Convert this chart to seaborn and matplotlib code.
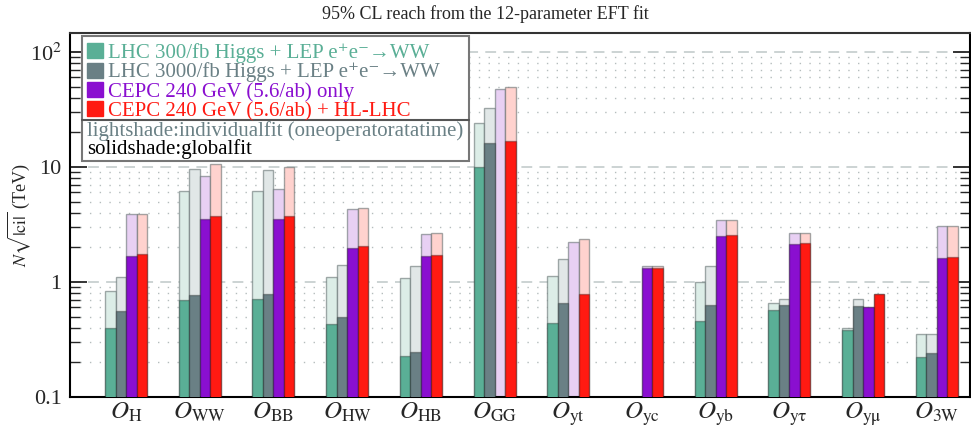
import numpy as np
import pandas as pd
import matplotlib
matplotlib.use('Agg')
import matplotlib.pyplot as plt
from matplotlib.patches import Patch, Rectangle
from matplotlib.lines import Line2D
from matplotlib.ticker import FixedLocator, FixedFormatter, LogLocator, NullFormatter
import seaborn as sns

nan = np.nan

# operators and fit scenarios
operators = ['H', 'WW', 'BB', 'HW', 'HB', 'GG', 'yt', 'yc', 'yb', 'ytau', 'ymu', '3W']
op_labels = [r'$O_{\rm H}$', r'$O_{\rm WW}$', r'$O_{\rm BB}$', r'$O_{\rm HW}$', r'$O_{\rm HB}$',
             r'$O_{\rm GG}$', r'$O_{\rm yt}$', r'$O_{\rm yc}$', r'$O_{\rm yb}$', r'$O_{\rm y\tau}$',
             r'$O_{\rm y\mu}$', r'$O_{\rm 3W}$']
fits = ['LHC 300/fb Higgs + LEP e\u207ae\u207b\u2192WW',
        'LHC 3000/fb Higgs + LEP e\u207ae\u207b\u2192WW',
        'CEPC 240 GeV (5.6/ab) only',
        'CEPC 240 GeV (5.6/ab) + HL-LHC']

# N*sqrt|ci| reach in TeV, global fit (solid shade)
lhc300_global = [0.40, 0.70, 0.71, 0.43, 0.225, 10.0, 0.44, nan, 0.46, 0.57, 0.386, 0.222]
lhc3000_global = [0.56, 0.77, 0.78, 0.50, 0.245, 16.3, 0.66, nan, 0.63, 0.63, 0.62, 0.242]
cepc_global = [1.67, 3.54, 3.54, 1.97, 1.67, nan, nan, 1.33, 2.53, 2.13, 0.60, 1.61]
comb_global = [1.76, 3.73, 3.73, 2.04, 1.72, 16.7, 0.787, 1.33, 2.57, 2.16, 0.78, 1.65]

# individual fit, one operator at a time (light shade)
lhc300_indiv = [0.84, 6.18, 6.15, 1.11, 1.08, 23.9, 1.13, nan, 0.99, 0.66, 0.40, 0.35]
lhc3000_indiv = [1.10, 9.53, 9.47, 1.41, 1.38, 32.8, 1.57, nan, 1.37, 0.71, 0.71, 0.35]
cepc_indiv = [3.88, 8.34, 6.47, 4.34, 2.62, 47.3, 2.22, 1.38, 3.47, 2.66, 0.60, 3.06]
comb_indiv = [3.88, 10.5, 9.97, 4.37, 2.67, 49.9, 2.34, 1.38, 3.47, 2.66, 0.78, 3.06]

ytick_vals = [0.1, 1, 10, 100]
ytick_labels = ['0.1', '1', '10', r'10$^2$']

solid_colors = ['#5aaf96', '#6a8085', '#8a0fd0', '#ff1a12']
light_colors = ['#dcede7', '#e1e7e7', '#e8d0f3', '#ffd2ce']


def long_frame(series):
    rows = []
    for fit, vals in zip(fits, series):
        for op, v in zip(operators, vals):
            rows.append({'operator': op, 'fit': fit, 'value': v})
    return pd.DataFrame(rows).dropna()


df_indiv = long_frame([lhc300_indiv, lhc3000_indiv, cepc_indiv, comb_indiv])
df_global = long_frame([lhc300_global, lhc3000_global, cepc_global, comb_global])

sns.set_style('white')
plt.rcParams['font.family'] = ['Liberation Serif', 'DejaVu Serif']
plt.rcParams['mathtext.fontset'] = 'stix'

fig, ax = plt.subplots(figsize=(9.71, 4.30), dpi=100)
fig.subplots_adjust(left=70 / 971, right=970 / 971, top=1 - 33 / 430, bottom=1 - 397 / 430)
ax.set_yscale('log')

sns.barplot(data=df_indiv, x='operator', y='value', hue='fit', order=operators, hue_order=fits,
            palette=light_colors, saturation=1, width=0.57, errorbar=None, legend=False,
            edgecolor=(0.35, 0.4, 0.4, 0.55), linewidth=1.0, ax=ax, zorder=2)
sns.barplot(data=df_global, x='operator', y='value', hue='fit', order=operators, hue_order=fits,
            palette=solid_colors, saturation=1, width=0.57, errorbar=None, legend=False,
            edgecolor=(0, 0, 0, 0.3), linewidth=1.0, ax=ax, zorder=3)

ax.set_xlim(-0.76, 11.45)
ax.set_ylim(0.1, 146)

# y axis
ax.yaxis.set_major_locator(FixedLocator(ytick_vals))
ax.yaxis.set_major_formatter(FixedFormatter(ytick_labels))
ax.yaxis.set_minor_locator(LogLocator(base=10, subs=np.arange(2, 10), numticks=20))
ax.yaxis.set_minor_formatter(NullFormatter())
ax.tick_params(axis='y', which='major', direction='in', length=12, width=1.3, left=True, right=True,
               labelsize=16, pad=6)
ax.tick_params(axis='y', which='minor', direction='in', length=7, width=1.0, left=True, right=True)
ax.yaxis.grid(True, which='major', ls=(0, (6, 4)), color='#c8d0d0', lw=1.3)
ax.yaxis.grid(True, which='minor', ls=(0, (1, 6)), color='#b5bdbd', lw=1.0)
ax.set_axisbelow(True)
ax.set_ylabel(r'$N\sqrt{|{\rm ci}|}$ (TeV)', fontsize=13)
ax.yaxis.set_label_coords(-37 / 900, 0.5)

# x axis: boundary ticks between groups, minor ticks under bars
n = len(operators)
bar_w = 0.57 / 4
offsets = (np.arange(4) - 1.5) * bar_w
ax.set_xticks(np.arange(n - 1) + 0.5)
ax.set_xticklabels([])
ax.set_xticks((np.arange(n)[:, None] + offsets[None, :]).ravel(), minor=True)
ax.tick_params(axis='x', which='major', direction='in', length=7, width=1.2, top=False)
ax.tick_params(axis='x', which='minor', direction='in', length=4, width=1.0, top=False)
ax.set_xlabel('')

sec = ax.secondary_xaxis('bottom')
sec.set_xticks(np.arange(n), op_labels)
sec.tick_params(length=0, pad=3, labelsize=18)
sec.spines['bottom'].set_visible(False)

for s in ax.spines.values():
    s.set_linewidth(1.5)
    s.set_color('black')
ax.spines['top'].set_color('#333333')

fig.suptitle('95% CL reach from the 12-parameter EFT fit', x=0.5, y=1 - 14 / 430, va='center', fontsize=13)

# legend box
W, H = 971, 430
box = Rectangle((81.7 / W, 1 - 161 / H), (469 - 81.7) / W, (161 - 36) / H, transform=fig.transFigure,
                facecolor='white', edgecolor='#777777', lw=1.5, zorder=4, clip_on=False)
ax.add_patch(box)
ax.add_line(Line2D([81.7 / W, 469 / W], [1 - 120 / H, 1 - 120 / H], transform=fig.transFigure,
                   color='#555555', lw=1.5, zorder=4.5, clip_on=False))
handles = [Patch(facecolor=c, edgecolor=c) for c in solid_colors]
leg = ax.legend(handles, fits, loc='upper left', bbox_to_anchor=(87 / W, 1 - 43 / H),
                bbox_transform=fig.transFigure, frameon=False, labelcolor=solid_colors,
                handlelength=0.75, handleheight=0.72, handletextpad=0.25, labelspacing=-0.02,
                borderaxespad=0, borderpad=0, fontsize=15)
leg.set_zorder(6)
ax.text(87 / W, 1 - 136 / H, 'lightshade:individualfit (oneoperatoratatime)', transform=fig.transFigure,
        color='#6a8085', fontsize=15, va='baseline', ha='left', zorder=6)
ax.text(87 / W, 1 - 154 / H, 'solidshade:globalfit', transform=fig.transFigure,
        color='black', fontsize=15, va='baseline', ha='left', zorder=6)

fig.savefig('out.png', dpi=100)
